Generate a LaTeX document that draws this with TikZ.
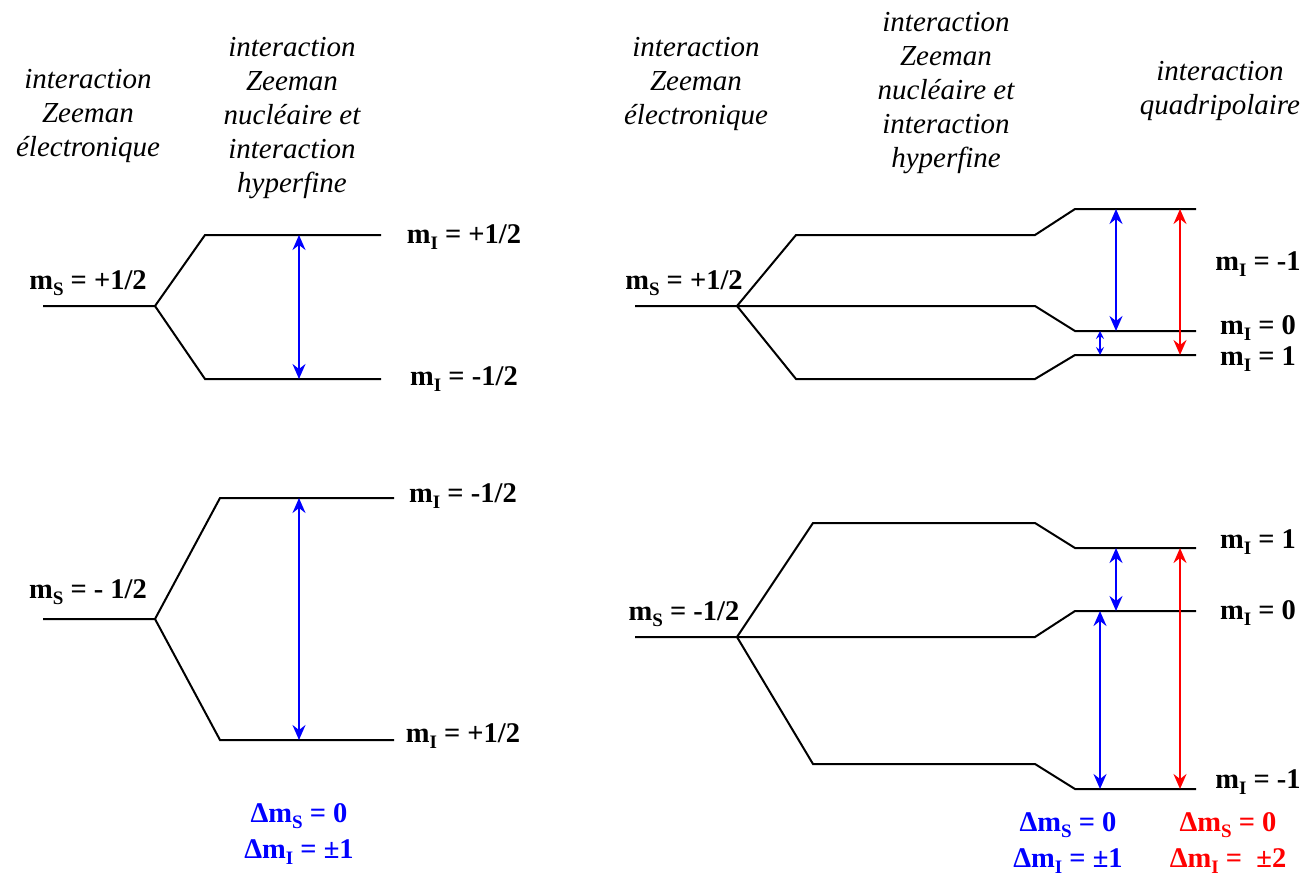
\documentclass[tikz,border=0pt]{standalone}
\usepackage{fontspec}
\setmainfont{Liberation Serif}
\usetikzlibrary{arrows.meta}
\definecolor{tblue}{RGB}{0,0,255}
\definecolor{tred}{RGB}{255,0,0}
\newcommand{\lsub}[1]{\raisebox{-0.22em}{\fontsize{19}{19}\selectfont #1}}
\tikzset{
  lvl/.style={line width=2pt, black, line join=miter},
  trans/.style={line width=2pt, {Stealth[length=15pt,width=13pt,inset=5pt]}-{Stealth[length=15pt,width=13pt,inset=5pt]}},
  smalltrans/.style={line width=1.6pt, {Stealth[length=8pt,width=8pt,inset=3pt]}-{Stealth[length=8pt,width=8pt,inset=3pt]}},
  hdr/.style={font=\fontsize{29}{34}\selectfont\itshape, align=center, inner sep=0pt},
  lab/.style={font=\fontsize{28.5}{30}\selectfont\bfseries, inner sep=0pt},
  dlab/.style={font=\fontsize{28.5}{36}\selectfont\bfseries, align=center, inner sep=0pt},
}
\begin{document}
\begin{tikzpicture}[x=1pt,y=-1pt]
\useasboundingbox (0,0) rectangle (1304,878);
% ---------- Left diagram ----------
\node[hdr] (h1) at (88,116) {interaction\\Zeeman\\électronique};
\node[hdr] (h2) at (292,118) {interaction\\Zeeman\\nucléaire et\\interaction\\hyperfine};
% ms=+1/2
\coordinate (a0) at (43,306); \coordinate (a1) at (155,306);
\coordinate (au0) at (205,235); \coordinate (au1) at (381,235);
\coordinate (ad0) at (205,379); \coordinate (ad1) at (381,379);
\draw[lvl] (a0) -- (a1) -- (au0) -- (au1);
\draw[lvl] (a1) -- (ad0) -- (ad1);
\coordinate (ta1) at (299,235); \coordinate (ta2) at (299,379);
\draw[trans, tblue] (ta1) -- (ta2);
\node[lab] (lA) at (88,283) {m\lsub{S} = +1/2};
\node[lab] (lA1) at (464,237) {m\lsub{I} = +1/2};
\node[lab] (lA2) at (464,379) {m\lsub{I} = -1/2};
% ms=-1/2
\coordinate (b0) at (43,619); \coordinate (b1) at (155,619);
\coordinate (bu0) at (220,498); \coordinate (bu1) at (394,498);
\coordinate (bd0) at (220,740); \coordinate (bd1) at (394,740);
\draw[lvl] (b0) -- (b1) -- (bu0) -- (bu1);
\draw[lvl] (b1) -- (bd0) -- (bd1);
\coordinate (tb1) at (299,498); \coordinate (tb2) at (299,740);
\draw[trans, tblue] (tb1) -- (tb2);
\node[lab] (lB) at (88,592) {m\lsub{S} = - 1/2};
\node[lab] (lB1) at (463,496) {m\lsub{I} = -1/2};
\node[lab] (lB2) at (463,736) {m\lsub{I} = +1/2};
\node[dlab, tblue] (dL) at (299,834) {Δm\lsub{S} = 0\\Δm\lsub{I} = ±1};
% ---------- Right diagram ----------
\node[hdr] (h3) at (696,84) {interaction\\Zeeman\\électronique};
\node[hdr] (h4) at (946,93) {interaction\\Zeeman\\nucléaire et\\interaction\\hyperfine};
\node[hdr] (h5) at (1220,91) {interaction\\quadripolaire};
% ms=+1/2
\coordinate (c0) at (635,306); \coordinate (c1) at (737,306);
\coordinate (cu0) at (796,235); \coordinate (cu1) at (1035,235); \coordinate (cu2) at (1075,209); \coordinate (cu3) at (1196,209);
\coordinate (cm1) at (1035,306); \coordinate (cm2) at (1075,331); \coordinate (cm3) at (1196,331);
\coordinate (cd0) at (796,379); \coordinate (cd1) at (1035,379); \coordinate (cd2) at (1075,355); \coordinate (cd3) at (1196,355);
\draw[lvl] (c0) -- (c1) -- (cm1) -- (cm2) -- (cm3);
\draw[lvl] (c1) -- (cu0) -- (cu1) -- (cu2) -- (cu3);
\draw[lvl] (c1) -- (cd0) -- (cd1) -- (cd2) -- (cd3);
\coordinate (tc1) at (1116,209); \coordinate (tc2) at (1116,331);
\coordinate (tc3) at (1180,209); \coordinate (tc4) at (1180,355);
\coordinate (tc5) at (1100,331); \coordinate (tc6) at (1100,355);
\draw[trans, tblue] (tc1) -- (tc2);
\draw[trans, tred] (tc3) -- (tc4);
\draw[smalltrans, tblue] (tc5) -- (tc6);
\node[lab] (lC) at (684,283) {m\lsub{S} = +1/2};
\node[lab] (lC1) at (1258,264) {m\lsub{I} = -1};
\node[lab] (lC2) at (1258,328) {m\lsub{I} = 0};
\node[lab] (lC3) at (1258,359) {m\lsub{I} = 1};
% ms=-1/2
\coordinate (d0) at (635,637); \coordinate (d1) at (737,637);
\coordinate (du0) at (813,523); \coordinate (du1) at (1035,523); \coordinate (du2) at (1075,548); \coordinate (du3) at (1196,548);
\coordinate (dm1) at (1035,637); \coordinate (dm2) at (1075,611); \coordinate (dm3) at (1196,611);
\coordinate (dd0) at (813,764); \coordinate (dd1) at (1035,764); \coordinate (dd2) at (1075,789); \coordinate (dd3) at (1196,789);
\draw[lvl] (d0) -- (d1) -- (dm1) -- (dm2) -- (dm3);
\draw[lvl] (d1) -- (du0) -- (du1) -- (du2) -- (du3);
\draw[lvl] (d1) -- (dd0) -- (dd1) -- (dd2) -- (dd3);
\coordinate (td1) at (1116,548); \coordinate (td2) at (1116,611);
\coordinate (td3) at (1100,611); \coordinate (td4) at (1100,789);
\coordinate (td5) at (1180,548); \coordinate (td6) at (1180,789);
\draw[trans, tblue] (td1) -- (td2);
\draw[trans, tblue] (td3) -- (td4);
\draw[trans, tred] (td5) -- (td6);
\node[lab] (lD) at (684,614) {m\lsub{S} = -1/2};
\node[lab] (lD1) at (1258,542) {m\lsub{I} = 1};
\node[lab] (lD2) at (1258,613) {m\lsub{I} = 0};
\node[lab] (lD3) at (1258,782) {m\lsub{I} = -1};
\node[dlab, tblue] (dR1) at (1068,843) {Δm\lsub{S} = 0\\Δm\lsub{I} = ±1};
\node[dlab, tred] (dR2) at (1228,843) {Δm\lsub{S} = 0\\Δm\lsub{I} =\ \ ±2};
\end{tikzpicture}
\end{document}
